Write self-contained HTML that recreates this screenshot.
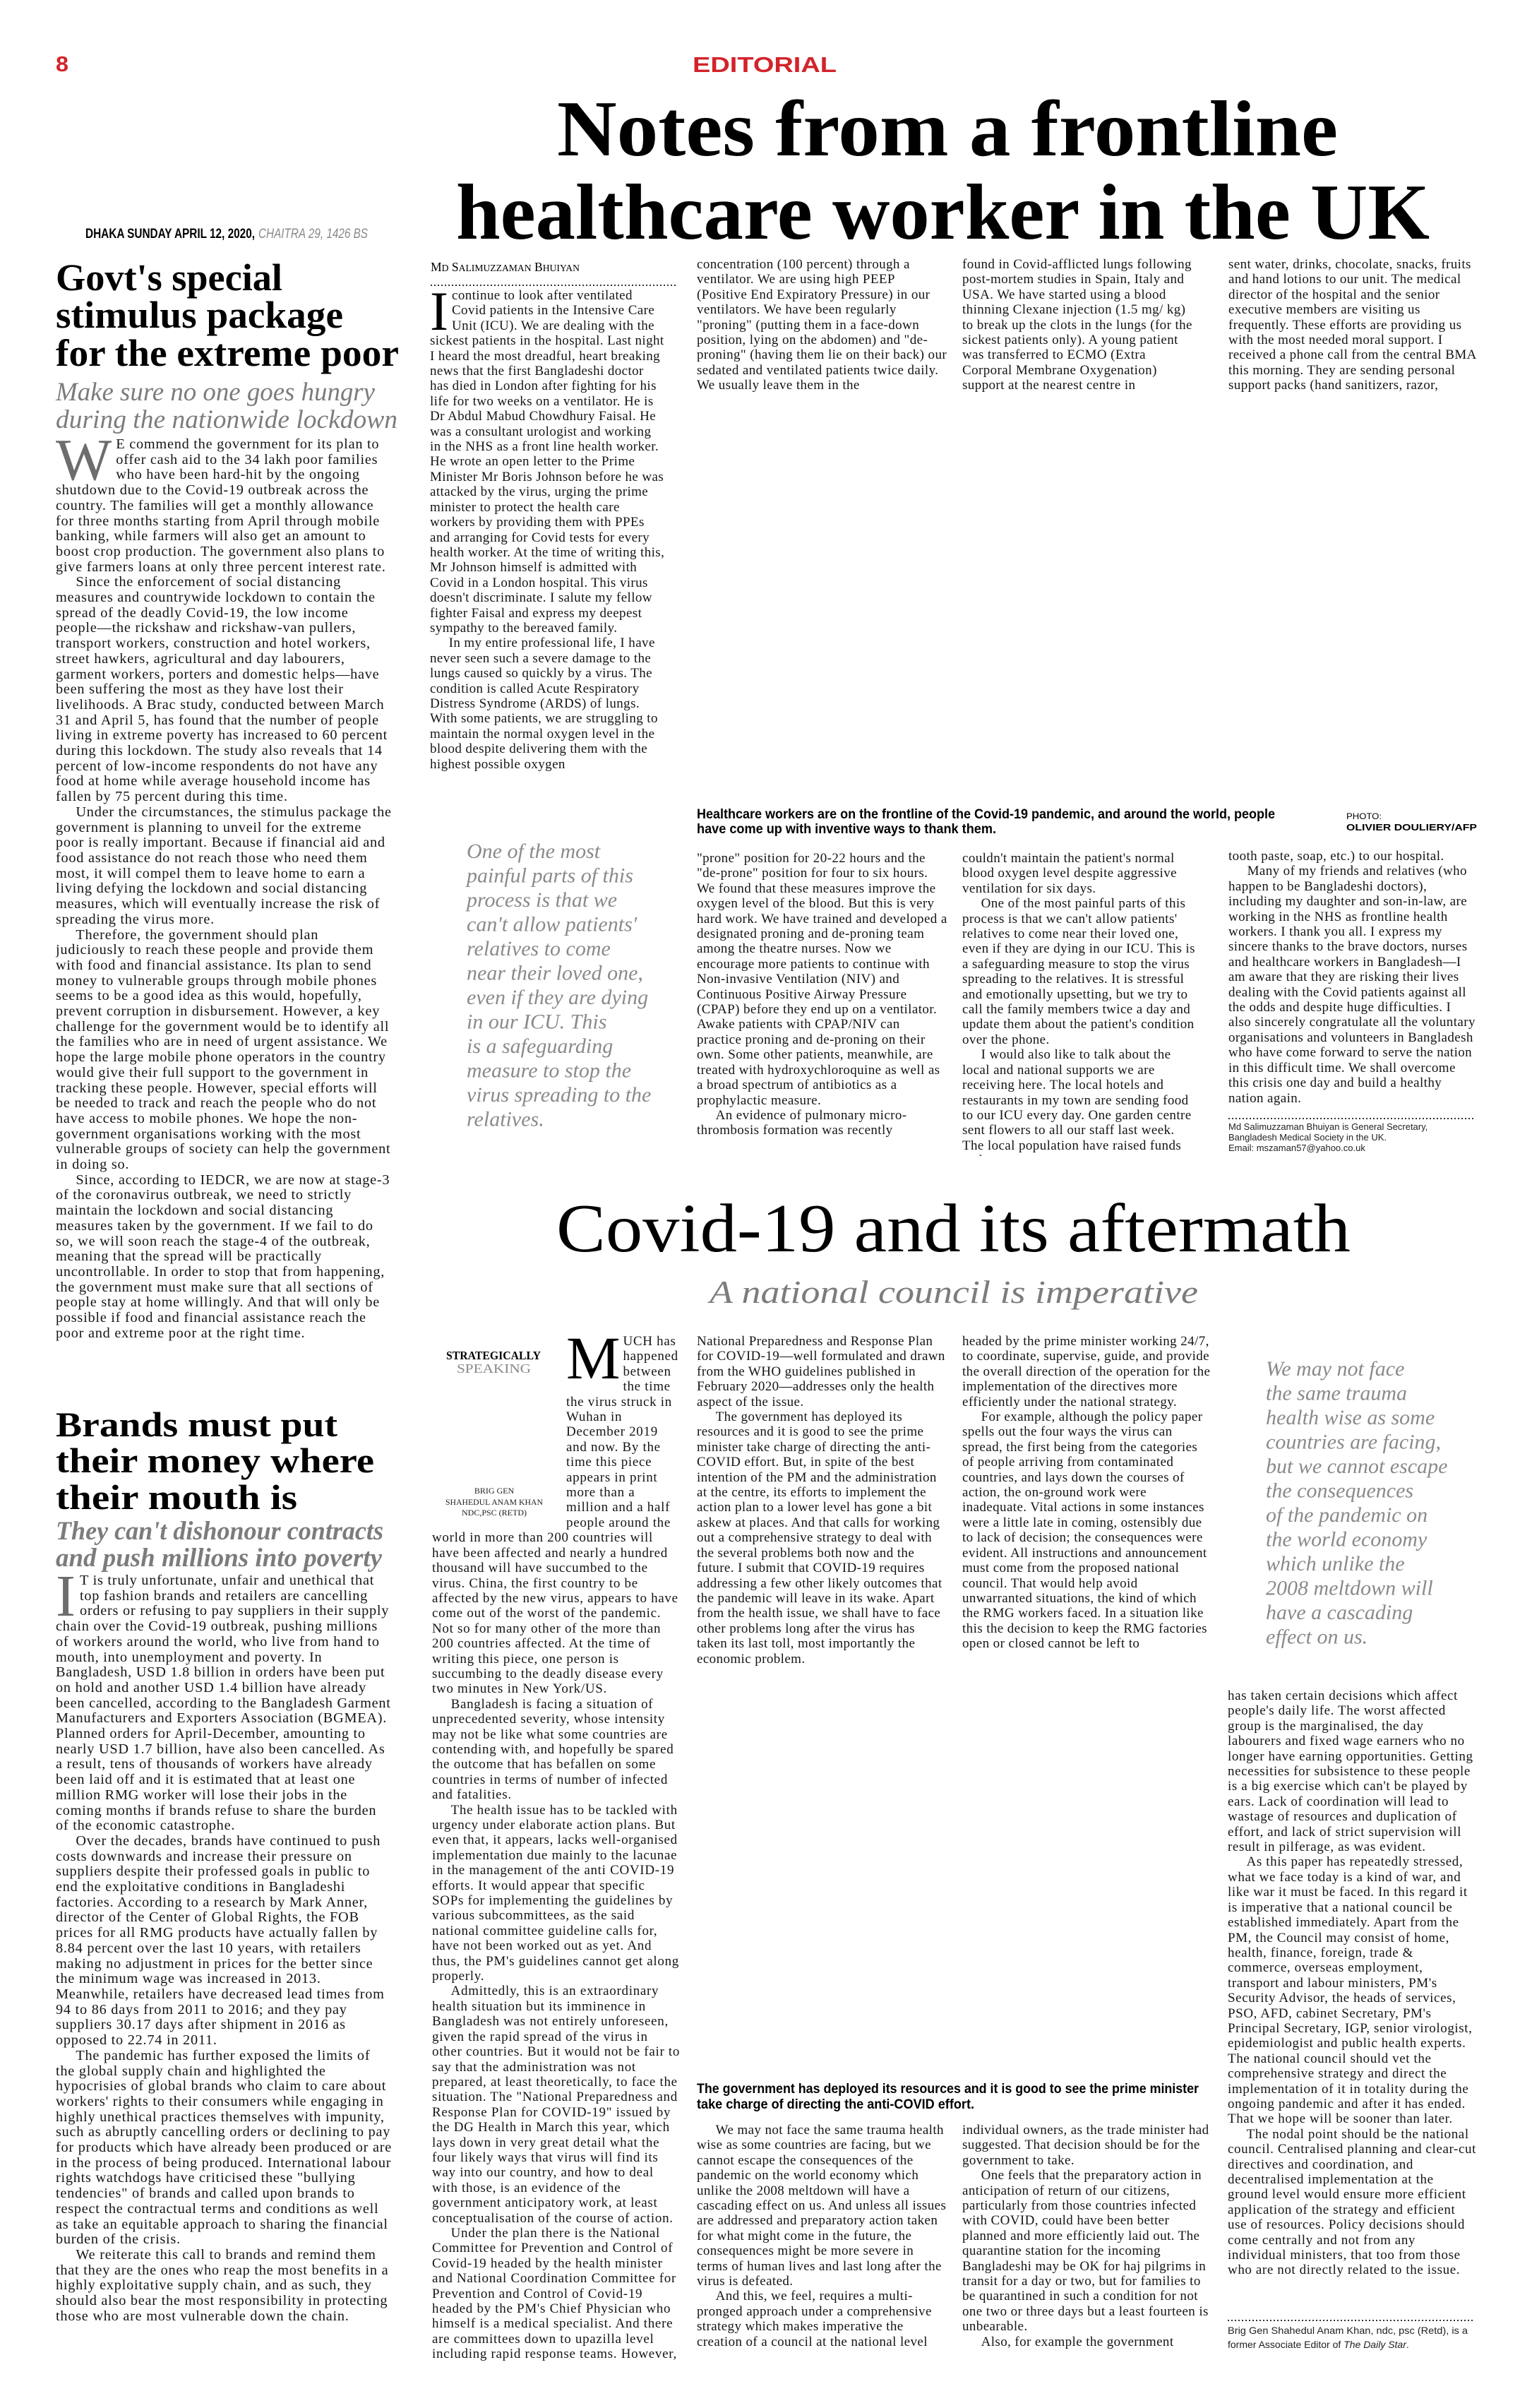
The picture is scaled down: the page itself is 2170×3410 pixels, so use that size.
<!DOCTYPE html>
<html><head><meta charset="utf-8"><style>
html,body{margin:0;padding:0;background:#fff}
#pg{position:relative;width:2170px;height:3410px;overflow:hidden;background:#fff}
.b{position:absolute;font-family:"Liberation Serif",serif;font-size:19px;line-height:21.4px;color:#151515;overflow:hidden;letter-spacing:0.4px}
.b p{margin:0;text-indent:1.4em}
.b p.f{text-indent:0}
.l{font-size:20.3px;line-height:21.7px;letter-spacing:0.75px}
.dc{float:left;font-family:"Liberation Serif",serif;color:#6d6d6d;margin:3px 6px 0 0;letter-spacing:0}
svg{position:absolute;left:0;top:0}
</style></head><body><div id="pg">

<svg width="2170" height="3410" viewBox="0 0 2170 3410">
<g font-family="Liberation Sans, sans-serif" font-weight="bold" fill="#d2232a">
<text x="79" y="101" font-size="31" textLength="18" lengthAdjust="spacingAndGlyphs">8</text>
<text x="981" y="102" font-size="31" textLength="204" lengthAdjust="spacingAndGlyphs">EDITORIAL</text>
</g>
<g font-family="Liberation Serif, serif" font-weight="bold" fill="#000">
<text x="789" y="220" font-size="112" textLength="1106" lengthAdjust="spacingAndGlyphs">Notes from a frontline</text>
<text x="646" y="338" font-size="112" textLength="1379" lengthAdjust="spacingAndGlyphs">healthcare worker in the UK</text>
</g>
<g font-family="Liberation Sans, sans-serif" font-weight="bold" font-size="19">
<text x="121" y="337" fill="#000" textLength="240" lengthAdjust="spacingAndGlyphs">DHAKA SUNDAY APRIL 12, 2020,</text>
<text x="366" y="337" fill="#888" font-style="italic" font-weight="normal" textLength="155" lengthAdjust="spacingAndGlyphs">CHAITRA 29, 1426 BS</text>
</g>
<g font-family="Liberation Serif, serif" font-weight="bold" fill="#000" font-size="54">
<text x="79" y="411" textLength="321" lengthAdjust="spacingAndGlyphs">Govt's special</text>
<text x="79" y="464" textLength="407" lengthAdjust="spacingAndGlyphs">stimulus package</text>
<text x="79" y="518" textLength="486" lengthAdjust="spacingAndGlyphs">for the extreme poor</text>
</g>
<g font-family="Liberation Serif, serif" font-style="italic" fill="#7c7c7c" font-size="37">
<text x="79" y="567" textLength="452" lengthAdjust="spacingAndGlyphs">Make sure no one goes hungry</text>
<text x="79" y="606" textLength="484" lengthAdjust="spacingAndGlyphs">during the nationwide lockdown</text>
</g>
<g font-family="Liberation Serif, serif" font-weight="bold" fill="#000" font-size="50">
<text x="79" y="2034" textLength="399" lengthAdjust="spacingAndGlyphs">Brands must put</text>
<text x="79" y="2085" textLength="451" lengthAdjust="spacingAndGlyphs">their money where</text>
<text x="79" y="2137" textLength="342" lengthAdjust="spacingAndGlyphs">their mouth is</text>
</g>
<g font-family="Liberation Serif, serif" font-weight="bold" font-style="italic" fill="#7c7c7c" font-size="37">
<text x="79" y="2180" textLength="464" lengthAdjust="spacingAndGlyphs">They can't dishonour contracts</text>
<text x="79" y="2218" textLength="462" lengthAdjust="spacingAndGlyphs">and push millions into poverty</text>
</g>
<text x="610" y="384" font-family="Liberation Serif, serif" font-size="18" fill="#000" textLength="211" lengthAdjust="spacingAndGlyphs">M<tspan font-size="14">D</tspan> S<tspan font-size="14">ALIMUZZAMAN</tspan> B<tspan font-size="14">HUIYAN</tspan></text>
<line x1="610" y1="404" x2="960" y2="404" stroke="#333" stroke-width="2" stroke-dasharray="2,3"/>

<g font-family="Liberation Sans, sans-serif" font-weight="bold" fill="#000" font-size="19">
<text x="987" y="1159" textLength="819" lengthAdjust="spacingAndGlyphs">Healthcare workers are on the frontline of the Covid-19 pandemic, and around the world, people</text>
<text x="987" y="1180" textLength="424" lengthAdjust="spacingAndGlyphs">have come up with inventive ways to thank them.</text>
<text x="1907" y="1176" font-size="13" textLength="185" lengthAdjust="spacingAndGlyphs">OLIVIER DOULIERY/AFP</text>
<text x="1907" y="1160" font-size="12" font-weight="normal" textLength="50" lengthAdjust="spacingAndGlyphs">PHOTO:</text>
</g>
<g font-family="Liberation Serif, serif" font-style="italic" fill="#8a8a8a" font-size="30">
<text x="661" y="1215">One of the most</text>
<text x="661" y="1249.5">painful parts of this</text>
<text x="661" y="1284">process is that we</text>
<text x="661" y="1318.5">can't allow patients'</text>
<text x="661" y="1353">relatives to come</text>
<text x="661" y="1387.5">near their loved one,</text>
<text x="661" y="1422">even if they are dying</text>
<text x="661" y="1456.5">in our ICU. This</text>
<text x="661" y="1491">is a safeguarding</text>
<text x="661" y="1525.5">measure to stop the</text>
<text x="661" y="1560">virus spreading to the</text>
<text x="661" y="1594.5">relatives.</text>
</g>
<line x1="1740" y1="1584" x2="2090" y2="1584" stroke="#333" stroke-width="2" stroke-dasharray="2,3"/>
<g font-family="Liberation Sans, sans-serif" font-size="13" fill="#222">
<text x="1740" y="1600">Md Salimuzzaman Bhuiyan is General Secretary,</text>
<text x="1740" y="1615">Bangladesh Medical Society in the UK.</text>
<text x="1740" y="1630">Email: mszaman57@yahoo.co.uk</text>
</g>

<text x="788" y="1772" font-family="Liberation Serif, serif" font-size="98" fill="#000" textLength="1125" lengthAdjust="spacingAndGlyphs">Covid-19 and its aftermath</text>
<text x="1005" y="1845" font-family="Liberation Serif, serif" font-style="italic" font-size="46" fill="#7c7c7c" textLength="692" lengthAdjust="spacingAndGlyphs">A national council is imperative</text>
<text x="632" y="1925" font-family="Liberation Serif, serif" font-weight="bold" font-size="17" fill="#000" textLength="134" lengthAdjust="spacingAndGlyphs">STRATEGICALLY</text>
<text x="647" y="1944" font-family="Liberation Serif, serif" font-size="18" fill="#888" textLength="105" lengthAdjust="spacingAndGlyphs">SPEAKING</text>
<g font-family="Liberation Serif, serif" font-size="12" fill="#222" text-anchor="middle">
<text x="700" y="2115">BRIG GEN</text>
<text x="700" y="2131" textLength="138" lengthAdjust="spacingAndGlyphs">SHAHEDUL ANAM KHAN</text>
<text x="700" y="2146">NDC,PSC (RETD)</text>
</g>
<g font-family="Liberation Serif, serif" font-style="italic" fill="#8a8a8a" font-size="30">
<text x="1793" y="1948">We may not face</text>
<text x="1793" y="1982.5">the same trauma</text>
<text x="1793" y="2017">health wise as some</text>
<text x="1793" y="2051.5">countries are facing,</text>
<text x="1793" y="2086">but we cannot escape</text>
<text x="1793" y="2120.5">the consequences</text>
<text x="1793" y="2155">of the pandemic on</text>
<text x="1793" y="2189.5">the world economy</text>
<text x="1793" y="2224">which unlike the</text>
<text x="1793" y="2258.5">2008 meltdown will</text>
<text x="1793" y="2293">have a cascading</text>
<text x="1793" y="2327.5">effect on us.</text>
</g>
<g font-family="Liberation Sans, sans-serif" font-weight="bold" fill="#000" font-size="19">
<text x="987" y="2964" textLength="711" lengthAdjust="spacingAndGlyphs">The government has deployed its resources and it is good to see the prime minister</text>
<text x="987" y="2986" textLength="393" lengthAdjust="spacingAndGlyphs">take charge of directing the anti-COVID effort.</text>
</g>
<line x1="1739" y1="3286" x2="2088" y2="3286" stroke="#333" stroke-width="2" stroke-dasharray="2,3"/>
<g font-family="Liberation Sans, sans-serif" font-size="14" fill="#222">
<text x="1739" y="3305" textLength="340" lengthAdjust="spacingAndGlyphs">Brig Gen Shahedul Anam Khan, ndc, psc (Retd), is a</text>
<text x="1739" y="3325">former Associate Editor of <tspan font-style="italic">The Daily Star</tspan>.</text>
</g>
</svg>

<div class="b l" style="left:79px;top:619px;width:476px;height:1330px">
<p class="f"><span class="dc" style="font-size:84px;line-height:60px">W</span>E commend the government for its plan to offer cash aid to the 34 lakh poor families who have been hard-hit by the ongoing shutdown due to the Covid-19 outbreak across the country. The families will get a monthly allowance for three months starting from April through mobile banking, while farmers will also get an amount to boost crop production. The government also plans to give farmers loans at only three percent interest rate.</p>
<p>Since the enforcement of social distancing measures and countrywide lockdown to contain the spread of the deadly Covid-19, the low income people—the rickshaw and rickshaw-van pullers, transport workers, construction and hotel workers, street hawkers, agricultural and day labourers, garment workers, porters and domestic helps—have been suffering the most as they have lost their livelihoods. A Brac study, conducted between March 31 and April 5, has found that the number of people living in extreme poverty has increased to 60 percent during this lockdown. The study also reveals that 14 percent of low-income respondents do not have any food at home while average household income has fallen by 75 percent during this time.</p>
<p>Under the circumstances, the stimulus package the government is planning to unveil for the extreme poor is really important. Because if financial aid and food assistance do not reach those who need them most, it will compel them to leave home to earn a living defying the lockdown and social distancing measures, which will eventually increase the risk of spreading the virus more.</p>
<p>Therefore, the government should plan judiciously to reach these people and provide them with food and financial assistance. Its plan to send money to vulnerable groups through mobile phones seems to be a good idea as this would, hopefully, prevent corruption in disbursement. However, a key challenge for the government would be to identify all the families who are in need of urgent assistance. We hope the large mobile phone operators in the country would give their full support to the government in tracking these people. However, special efforts will be needed to track and reach the people who do not have access to mobile phones. We hope the non-government organisations working with the most vulnerable groups of society can help the government in doing so.</p>
<p>Since, according to IEDCR, we are now at stage-3 of the coronavirus outbreak, we need to strictly maintain the lockdown and social distancing measures taken by the government. If we fail to do so, we will soon reach the stage-4 of the outbreak, meaning that the spread will be practically uncontrollable. In order to stop that from happening, the government must make sure that all sections of people stay at home willingly. And that will only be possible if food and financial assistance reach the poor and extreme poor at the right time.</p>
</div>

<div class="b l" style="left:79px;top:2228px;width:476px;height:1160px">
<p class="f"><span class="dc" style="font-size:84px;line-height:60px">I</span>T is truly unfortunate, unfair and unethical that top fashion brands and retailers are cancelling orders or refusing to pay suppliers in their supply chain over the Covid-19 outbreak, pushing millions of workers around the world, who live from hand to mouth, into unemployment and poverty. In Bangladesh, USD 1.8 billion in orders have been put on hold and another USD 1.4 billion have already been cancelled, according to the Bangladesh Garment Manufacturers and Exporters Association (BGMEA). Planned orders for April-December, amounting to nearly USD 1.7 billion, have also been cancelled. As a result, tens of thousands of workers have already been laid off and it is estimated that at least one million RMG worker will lose their jobs in the coming months if brands refuse to share the burden of the economic catastrophe.</p>
<p>Over the decades, brands have continued to push costs downwards and increase their pressure on suppliers despite their professed goals in public to end the exploitative conditions in Bangladeshi factories. According to a research by Mark Anner, director of the Center of Global Rights, the FOB prices for all RMG products have actually fallen by 8.84 percent over the last 10 years, with retailers making no adjustment in prices for the better since the minimum wage was increased in 2013. Meanwhile, retailers have decreased lead times from 94 to 86 days from 2011 to 2016; and they pay suppliers 30.17 days after shipment in 2016 as opposed to 22.74 in 2011.</p>
<p>The pandemic has further exposed the limits of the global supply chain and highlighted the hypocrisies of global brands who claim to care about workers' rights to their consumers while engaging in highly unethical practices themselves with impunity, such as abruptly cancelling orders or declining to pay for products which have already been produced or are in the process of being produced. International labour rights watchdogs have criticised these "bullying tendencies" of brands and called upon brands to respect the contractual terms and conditions as well as take an equitable approach to sharing the financial burden of the crisis.</p>
<p>We reiterate this call to brands and remind them that they are the ones who reap the most benefits in a highly exploitative supply chain, and as such, they should also bear the most responsibility in protecting those who are most vulnerable down the chain.</p>
</div>

<div class="b" style="left:609px;top:408px;width:333px;height:710px">
<p class="f"><span class="dc" style="color:#000;font-size:78px;line-height:60px;margin-right:5px">I</span>continue to look after ventilated Covid patients in the Intensive Care Unit (ICU). We are dealing with the sickest patients in the hospital. Last night I heard the most dreadful, heart breaking news that the first Bangladeshi doctor has died in London after fighting for his life for two weeks on a ventilator. He is Dr Abdul Mabud Chowdhury Faisal. He was a consultant urologist and working in the NHS as a front line health worker. He wrote an open letter to the Prime Minister Mr Boris Johnson before he was attacked by the virus, urging the prime minister to protect the health care workers by providing them with PPEs and arranging for Covid tests for every health worker. At the time of writing this, Mr Johnson himself is admitted with Covid in a London hospital. This virus doesn't discriminate. I salute my fellow fighter Faisal and express my deepest sympathy to the bereaved family.</p>
<p>In my entire professional life, I have never seen such a severe damage to the lungs caused so quickly by a virus. The condition is called Acute Respiratory Distress Syndrome (ARDS) of lungs. With some patients, we are struggling to maintain the normal oxygen level in the blood despite delivering them with the highest possible oxygen</p>
</div>
<div class="b" style="left:987px;top:364px;width:355px;height:195px">
<p class="f">concentration (100 percent) through a ventilator. We are using high PEEP (Positive End Expiratory Pressure) in our ventilators. We have been regularly "proning" (putting them in a face-down position, lying on the abdomen) and "de-proning" (having them lie on their back) our sedated and ventilated patients twice daily. We usually leave them in the</p>
</div>
<div class="b" style="left:1363px;top:364px;width:334px;height:195px">
<p class="f">found in Covid-afflicted lungs following post-mortem studies in Spain, Italy and USA. We have started using a blood thinning Clexane injection (1.5 mg/ kg) to break up the clots in the lungs (for the sickest patients only). A young patient was transferred to ECMO (Extra Corporal Membrane Oxygenation) support at the nearest centre in Manchester recently. We</p>
</div>
<div class="b" style="left:1740px;top:364px;width:352px;height:195px">
<p class="f">sent water, drinks, chocolate, snacks, fruits and hand lotions to our unit. The medical director of the hospital and the senior executive members are visiting us frequently. These efforts are providing us with the most needed moral support. I received a phone call from the central BMA this morning. They are sending personal support packs (hand sanitizers, razor,</p>
</div>
<div class="b" style="left:987px;top:1205px;width:355px;height:432px">
<p class="f">"prone" position for 20-22 hours and the "de-prone" position for four to six hours. We found that these measures improve the oxygen level of the blood. But this is very hard work. We have trained and developed a designated proning and de-proning team among the theatre nurses. Now we encourage more patients to continue with Non-invasive Ventilation (NIV) and Continuous Positive Airway Pressure (CPAP) before they end up on a ventilator. Awake patients with CPAP/NIV can practice proning and de-proning on their own. Some other patients, meanwhile, are treated with hydroxychloroquine as well as a broad spectrum of antibiotics as a prophylactic measure.</p>
<p>An evidence of pulmonary micro-thrombosis formation was recently</p>
</div>
<div class="b" style="left:1363px;top:1205px;width:334px;height:432px">
<p class="f">couldn't maintain the patient's normal blood oxygen level despite aggressive ventilation for six days.</p>
<p>One of the most painful parts of this process is that we can't allow patients' relatives to come near their loved one, even if they are dying in our ICU. This is a safeguarding measure to stop the virus spreading to the relatives. It is stressful and emotionally upsetting, but we try to call the family members twice a day and update them about the patient's condition over the phone.</p>
<p>I would also like to talk about the local and national supports we are receiving here. The local hotels and restaurants in my town are sending food to our ICU every day. One garden centre sent flowers to all our staff last week. The local population have raised funds and</p>
</div>
<div class="b" style="left:1740px;top:1202px;width:352px;height:368px">
<p class="f">tooth paste, soap, etc.) to our hospital.</p>
<p>Many of my friends and relatives (who happen to be Bangladeshi doctors), including my daughter and son-in-law, are working in the NHS as frontline health workers. I thank you all. I express my sincere thanks to the brave doctors, nurses and healthcare workers in Bangladesh—I am aware that they are risking their lives dealing with the Covid patients against all the odds and despite huge difficulties. I also sincerely congratulate all the voluntary organisations and volunteers in Bangladesh who have come forward to serve the nation in this difficult time. We shall overcome this crisis one day and build a healthy nation again.</p>
</div>

<div class="b" style="left:612px;top:1889px;width:352px;height:1496px;letter-spacing:0.7px">
<div style="float:left;width:190px;height:278px"></div>
<p class="f"><span class="dc" style="color:#000;font-size:86px;line-height:62px;margin-right:4px">M</span>UCH has happened between the time the virus struck in Wuhan in December 2019 and now. By the time this piece appears in print more than a million and a half people around the world in more than 200 countries will have been affected and nearly a hundred thousand will have succumbed to the virus. China, the first country to be affected by the new virus, appears to have come out of the worst of the pandemic. Not so for many other of the more than 200 countries affected. At the time of writing this piece, one person is succumbing to the deadly disease every two minutes in New York/US.</p>
<p>Bangladesh is facing a situation of unprecedented severity, whose intensity may not be like what some countries are contending with, and hopefully be spared the outcome that has befallen on some countries in terms of number of infected and fatalities.</p>
<p>The health issue has to be tackled with urgency under elaborate action plans. But even that, it appears, lacks well-organised implementation due mainly to the lacunae in the management of the anti COVID-19 efforts. It would appear that specific SOPs for implementing the guidelines by various subcommittees, as the said national committee guideline calls for, have not been worked out as yet. And thus, the PM's guidelines cannot get along properly.</p>
<p>Admittedly, this is an extraordinary health situation but its imminence in Bangladesh was not entirely unforeseen, given the rapid spread of the virus in other countries. But it would not be fair to say that the administration was not prepared, at least theoretically, to face the situation. The "National Preparedness and Response Plan for COVID-19" issued by the DG Health in March this year, which lays down in very great detail what the four likely ways that virus will find its way into our country, and how to deal with those, is an evidence of the government anticipatory work, at least conceptualisation of the course of action.</p>
<p>Under the plan there is the National Committee for Prevention and Control of Covid-19 headed by the health minister and National Coordination Committee for Prevention and Control of Covid-19 headed by the PM's Chief Physician who himself is a medical specialist. And there are committees down to upazilla level including rapid response teams. However,</p>
</div>
<div class="b" style="left:987px;top:1889px;width:355px;height:496px">
<p class="f">National Preparedness and Response Plan for COVID-19—well formulated and drawn from the WHO guidelines published in February 2020—addresses only the health aspect of the issue.</p>
<p>The government has deployed its resources and it is good to see the prime minister take charge of directing the anti-COVID effort. But, in spite of the best intention of the PM and the administration at the centre, its efforts to implement the action plan to a lower level has gone a bit askew at places. And that calls for working out a comprehensive strategy to deal with the several problems both now and the future. I submit that COVID-19 requires addressing a few other likely outcomes that the pandemic will leave in its wake. Apart from the health issue, we shall have to face other problems long after the virus has taken its last toll, most importantly the economic problem.</p>
</div>
<div class="b" style="left:1363px;top:1889px;width:352px;height:496px">
<p class="f">headed by the prime minister working 24/7, to coordinate, supervise, guide, and provide the overall direction of the operation for the implementation of the directives more efficiently under the national strategy.</p>
<p>For example, although the policy paper spells out the four ways the virus can spread, the first being from the categories of people arriving from contaminated countries, and lays down the courses of action, the on-ground work were inadequate. Vital actions in some instances were a little late in coming, ostensibly due to lack of decision; the consequences were evident. All instructions and announcement must come from the proposed national council. That would help avoid unwarranted situations, the kind of which the RMG workers faced. In a situation like this the decision to keep the RMG factories open or closed cannot be left to</p>
</div>
<div class="b" style="left:1739px;top:2391px;width:352px;height:880px;letter-spacing:0.6px">
<p class="f">has taken certain decisions which affect people's daily life. The worst affected group is the marginalised, the day labourers and fixed wage earners who no longer have earning opportunities. Getting necessities for subsistence to these people is a big exercise which can't be played by ears. Lack of coordination will lead to wastage of resources and duplication of effort, and lack of strict supervision will result in pilferage, as was evident.</p>
<p>As this paper has repeatedly stressed, what we face today is a kind of war, and like war it must be faced. In this regard it is imperative that a national council be established immediately. Apart from the PM, the Council may consist of home, health, finance, foreign, trade &amp; commerce, overseas employment, transport and labour ministers, PM's Security Advisor, the heads of services, PSO, AFD, cabinet Secretary, PM's Principal Secretary, IGP, senior virologist, epidemiologist and public health experts. The national council should vet the comprehensive strategy and direct the implementation of it in totality during the ongoing pandemic and after it has ended. That we hope will be sooner than later.</p>
<p>The nodal point should be the national council. Centralised planning and clear-cut directives and coordination, and decentralised implementation at the ground level would ensure more efficient application of the strategy and efficient use of resources. Policy decisions should come centrally and not from any individual ministers, that too from those who are not directly related to the issue.</p>
</div>
<div class="b" style="left:987px;top:3006px;width:355px;height:320px">
<p>We may not face the same trauma health wise as some countries are facing, but we cannot escape the consequences of the pandemic on the world economy which unlike the 2008 meltdown will have a cascading effect on us. And unless all issues are addressed and preparatory action taken for what might come in the future, the consequences might be more severe in terms of human lives and last long after the virus is defeated.</p>
<p>And this, we feel, requires a multi-pronged approach under a comprehensive strategy which makes imperative the creation of a council at the national level</p>
</div>
<div class="b" style="left:1363px;top:3006px;width:352px;height:320px">
<p class="f">individual owners, as the trade minister had suggested. That decision should be for the government to take.</p>
<p>One feels that the preparatory action in anticipation of return of our citizens, particularly from those countries infected with COVID, could have been better planned and more efficiently laid out. The quarantine station for the incoming Bangladeshi may be OK for haj pilgrims in transit for a day or two, but for families to be quarantined in such a condition for not one two or three days but a least fourteen is unbearable.</p>
<p>Also, for example the government</p>
</div>

</div></body></html>
